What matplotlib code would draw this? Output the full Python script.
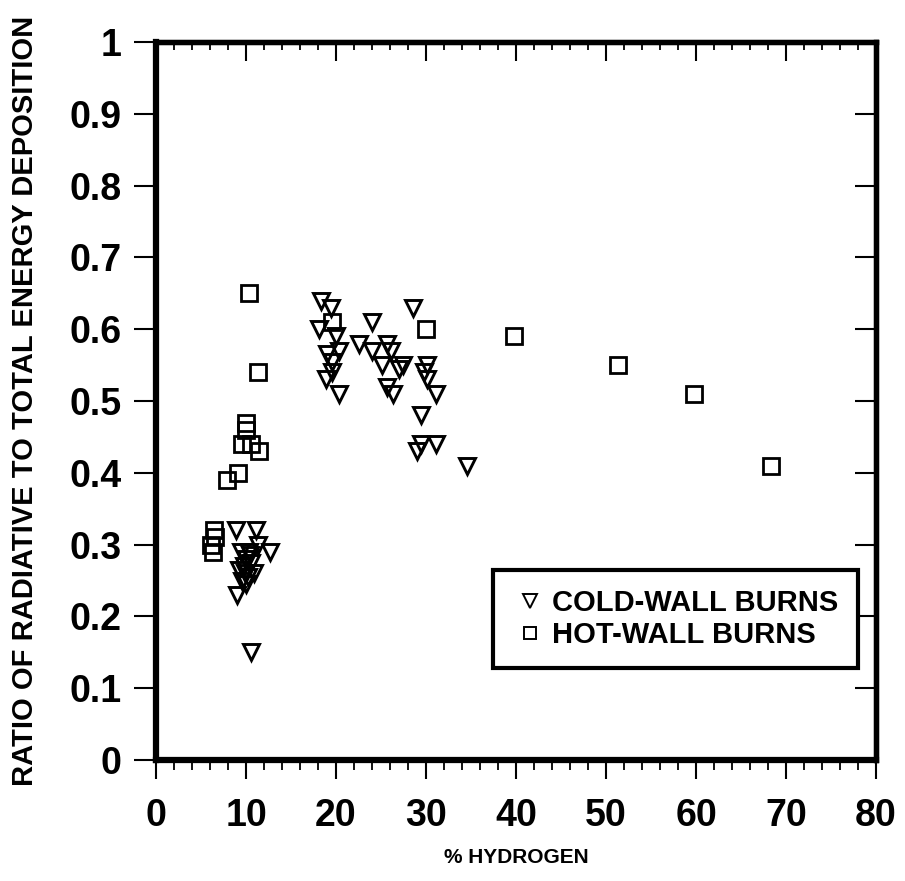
import matplotlib.pyplot as plt
from matplotlib.lines import Line2D
from matplotlib.ticker import FixedLocator, MultipleLocator

# =========================
# DATA
# =========================

# cold-wall burns: % hydrogen, radiative / total energy
cold_h2 = [
    8.9, 11.1, 11.3, 12.7, 9.4, 10.0, 10.4, 9.8, 10.6, 9.2, 10.9, 10.2,
    9.6, 10.0, 9.0, 10.5, 9.9, 10.3,
    18.3, 19.4, 18.1, 20.0, 20.3, 19.0, 19.6, 19.6, 18.9, 20.3,
    24.0, 22.5, 24.0, 25.7, 26.1, 25.1, 27.4, 27.0, 25.7, 26.3,
    28.5, 30.1, 29.8, 30.1, 31.1, 29.4, 29.4, 31.1, 29.0, 34.6,
]
cold_ratio = [
    0.32, 0.32, 0.30, 0.29, 0.29, 0.28, 0.285, 0.27, 0.275, 0.265, 0.26, 0.255,
    0.25, 0.245, 0.23, 0.15, 0.26, 0.29,
    0.64, 0.63, 0.60, 0.59, 0.57, 0.565, 0.555, 0.54, 0.53, 0.51,
    0.61, 0.58, 0.57, 0.58, 0.57, 0.55, 0.55, 0.545, 0.52, 0.51,
    0.63, 0.55, 0.54, 0.53, 0.51, 0.48, 0.44, 0.44, 0.43, 0.41,
]

# hot-wall burns
hot_h2 = [
    10.3, 11.3, 10.0, 10.0, 9.5, 10.5, 11.4, 9.1, 7.9,
    6.4, 6.6, 6.1, 6.3,
    19.6, 30.0, 39.8, 51.3, 59.8, 68.3,
]
hot_ratio = [
    0.65, 0.54, 0.47, 0.46, 0.44, 0.44, 0.43, 0.40, 0.39,
    0.32, 0.31, 0.30, 0.29,
    0.61, 0.60, 0.59, 0.55, 0.51, 0.41,
]

y_ticks = [0, 0.1, 0.2, 0.3, 0.4, 0.5, 0.6, 0.7, 0.8, 0.9, 1.0]
y_tick_labels = ["0", "0.1", "0.2", "0.3", "0.4", "0.5", "0.6", "0.7", "0.8", "0.9", "1"]
x_ticks = [0, 10, 20, 30, 40, 50, 60, 70, 80]

# =========================
# FIGURE
# =========================

plt.rcParams["font.family"] = ["Liberation Sans", "DejaVu Sans"]
plt.rcParams["font.weight"] = "bold"

fig = plt.figure(figsize=(9.05, 8.81), dpi=100)
ax = fig.add_axes([0.1724, 0.1373, 0.7956, 0.815])

ax.plot(cold_h2, cold_ratio, linestyle="none", marker="v", markersize=12,
        markerfacecolor="none", markeredgecolor="black", markeredgewidth=2.1)
ax.plot(hot_h2, hot_ratio, linestyle="none", marker="s", markersize=11,
        markerfacecolor="none", markeredgecolor="black", markeredgewidth=2.0)

ax.set_xlim(0, 80)
ax.set_ylim(0, 1)

for side in ["left", "bottom"]:
    ax.spines[side].set_linewidth(4.5)
for side in ["top", "right"]:
    ax.spines[side].set_linewidth(3.8)

# bottom / left ticks point out
ax.xaxis.set_major_locator(FixedLocator(x_ticks))
ax.xaxis.set_minor_locator(MultipleLocator(2))
ax.set_yticks(y_ticks)
ax.set_yticklabels(y_tick_labels)
ax.tick_params(axis="x", which="major", direction="out", length=14, width=1.5,
               pad=13, labelsize=27, top=False)
ax.tick_params(axis="x", which="minor", direction="out", length=7, width=1.3, top=False)
ax.tick_params(axis="y", which="major", direction="out", length=16, width=1.5,
               pad=9, labelsize=27, right=False)

# top / right ticks point in
top = ax.secondary_xaxis("top")
top.xaxis.set_major_locator(FixedLocator(x_ticks))
top.xaxis.set_minor_locator(MultipleLocator(2))
top.tick_params(which="major", direction="in", length=14, width=1.5, labeltop=False)
top.tick_params(which="minor", direction="in", length=6, width=1.3)
top.spines["top"].set_linewidth(3.8)

right = ax.secondary_yaxis("right")
right.set_yticks(y_ticks)
right.tick_params(which="major", direction="in", length=15, width=1.5, labelright=False)
right.spines["right"].set_linewidth(3.8)

ax.set_ylabel("RATIO OF RADIATIVE TO TOTAL ENERGY DEPOSITION", fontsize=21,
              fontweight="bold")
ax.yaxis.set_label_coords(-0.162, 0.5)
ax.set_xlabel("% HYDROGEN", fontsize=15, fontweight="bold")
ax.xaxis.set_label_coords(0.5, -0.123)
ax.xaxis.label.set_verticalalignment("top")

# =========================
# LEGEND
# =========================

handles = [
    Line2D([], [], linestyle="none", marker="v", markersize=9.5,
           markerfacecolor="none", markeredgecolor="black", markeredgewidth=1.4),
    Line2D([], [], linestyle="none", marker="s", markersize=8.5,
           markerfacecolor="none", markeredgecolor="black", markeredgewidth=1.4),
]
leg = ax.legend(handles, ["COLD-WALL BURNS", "HOT-WALL BURNS"],
                loc="upper left", bbox_to_anchor=(0.468, 0.265),
                fontsize=21, frameon=True, fancybox=False, framealpha=1,
                edgecolor="black", borderpad=0.67, labelspacing=0.12,
                handlelength=1.19, handletextpad=0.18, borderaxespad=0)
leg.get_frame().set_linewidth(3)
for t in leg.get_texts():
    t.set_fontweight("bold")

fig.savefig("out.png", dpi=100)
